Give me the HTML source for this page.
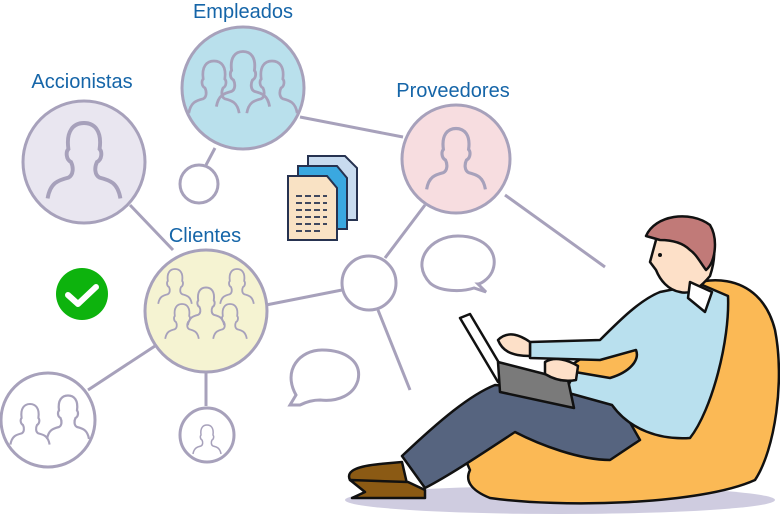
<!DOCTYPE html>
<html><head><meta charset="utf-8"><style>
html,body{margin:0;padding:0;background:#fff;width:780px;height:519px;overflow:hidden}
text{font-family:"Liberation Sans",sans-serif;fill:#1565a8;font-size:20px}
</style></head><body>
<svg width="780" height="519" viewBox="0 0 780 519" xmlns="http://www.w3.org/2000/svg">
<defs>
<path id="p" d="M-28,28 C-26,16 -20,14 -12,12 C-8,10 -8,4 -10,0 C-14,-2 -14,-8 -12,-10 C-14,-24 -8,-30 0,-30 C8,-30 14,-24 12,-10 C14,-8 14,-2 10,0 C8,4 8,10 12,12 C20,14 26,16 28,28" fill="none" stroke="#a7a1bb" stroke-width="3"/>
</defs>
<g stroke="#a7a1bb" stroke-width="3" fill="none">
<line x1="300" y1="117" x2="403" y2="137"/>
<line x1="215" y1="148" x2="206" y2="165"/>
<line x1="130" y1="205" x2="173" y2="250"/>
<line x1="266" y1="305" x2="342" y2="290"/>
<line x1="385" y1="258" x2="425" y2="205"/>
<line x1="505" y1="195" x2="605" y2="267"/>
<line x1="378" y1="310" x2="410" y2="390"/>
<line x1="155" y1="346" x2="88" y2="390"/>
<line x1="206" y1="361" x2="206" y2="406"/>
<circle cx="243" cy="88" r="61" fill="#b9e0ec"/>
<circle cx="84" cy="162" r="61" fill="#e9e6f0"/>
<circle cx="456" cy="159" r="54" fill="#f7dde0"/>
<circle cx="206" cy="311" r="61" fill="#f5f3d2"/>
<circle cx="199" cy="184" r="19" fill="#fff"/>
<circle cx="369" cy="283" r="27" fill="#fff"/>
<circle cx="48" cy="420" r="47" fill="#fff"/>
<circle cx="207" cy="435" r="27" fill="#fff"/>
<path d="M430,283 C410,262 430,236 458,236 C486,236 500,254 492,272 C488,280 480,284 478,284 L486,292 L474,288 C462,292 440,292 430,283Z"/>
<path d="M296,395 C282,370 300,350 322,350 C346,350 362,362 358,380 C354,395 338,402 320,400 C314,400 306,402 300,405 L290,405 Z"/>
</g>
<use href="#p" transform="translate(84,162) scale(1.3)"/>
<use href="#p" transform="translate(214,88) scale(0.9)"/>
<use href="#p" transform="translate(272,88) scale(0.9)"/>
<use href="#p" transform="translate(243,80) scale(0.95)"/>
<use href="#p" transform="translate(456,160) scale(1.05)"/>
<use href="#p" transform="translate(175,287) scale(0.6)"/>
<use href="#p" transform="translate(237,287) scale(0.6)"/>
<use href="#p" transform="translate(182,322) scale(0.6)"/>
<use href="#p" transform="translate(230,322) scale(0.6)"/>
<use href="#p" transform="translate(206,307) scale(0.65)"/>
<use href="#p" transform="translate(30,425) scale(0.7)"/>
<use href="#p" transform="translate(68,418) scale(0.75)"/>
<use href="#p" transform="translate(207,440) scale(0.5)"/>
<text x="243" y="18" text-anchor="middle">Empleados</text>
<text x="82" y="88" text-anchor="middle">Accionistas</text>
<text x="453" y="97" text-anchor="middle">Proveedores</text>
<text x="205" y="242" text-anchor="middle">Clientes</text>
<circle cx="82" cy="294" r="26" fill="#0db30d"/>
<path d="M68,295 L78,304 L96,287" stroke="#fff" stroke-width="6" fill="none" stroke-linecap="round" stroke-linejoin="round"/>
<g stroke="#263250" stroke-width="2">
<path d="M308,156 H345 L357,168 V220 H308Z" fill="#c8dbef"/>
<path d="M298,166 H337 L347,178 V229 H298Z" fill="#3aa8e0"/>
<path d="M288,176 H327 L337,188 V240 H288Z" fill="#f9e2c4"/>
<g stroke-dasharray="6,3" stroke-width="1.8"><line x1="296" y1="196" x2="327" y2="196"/><line x1="296" y1="203" x2="327" y2="203"/><line x1="296" y1="210" x2="327" y2="210"/><line x1="296" y1="217" x2="327" y2="217"/><line x1="296" y1="224" x2="327" y2="224"/><line x1="296" y1="231" x2="322" y2="231"/></g>
</g>
<ellipse cx="560" cy="500" rx="215" ry="14" fill="#cfcce0"/>
<g stroke="#111" stroke-width="2.5" stroke-linejoin="round">
<path d="M470,470 C450,430 480,400 520,390 C560,380 620,330 660,300 C700,270 760,270 775,330 C785,380 775,450 755,480 C700,505 560,508 490,498 C470,490 465,480 470,470Z" fill="#fbb955"/>
<path d="M408,488 L350,480 C345,470 360,466 380,464 L402,462Z" fill="#8b5a14"/>
<path d="M365,492 L350,480 L408,482 L425,490 L425,498 L352,498Z" fill="#8b5a14"/>
<path d="M402,456 C440,420 470,395 495,385 L560,390 L620,405 L640,440 L610,460 C580,460 540,445 515,432 C480,455 450,475 425,488 Z" fill="#56647f"/>
<path d="M530,342 L600,340 C620,320 640,300 660,292 L700,284 L728,296 C730,340 712,410 690,438 C660,440 630,430 612,405 L565,392 L575,372 L610,378 C630,372 640,360 636,350 L600,360 L530,358Z" fill="#b9e0ee"/>
<path d="M656,240 C660,220 690,215 708,228 C716,240 716,258 710,276 C700,288 690,295 680,292 C668,290 660,280 656,270 L650,262Z" fill="#fde0c8"/>
<path d="M646,236 C655,215 690,210 710,225 C718,238 716,262 706,270 C700,262 696,254 690,250 C680,240 665,240 660,240Z" fill="#c17a78"/>
<path d="M690,282 L712,292 L705,312 L688,298Z" fill="#fff"/>
<path d="M460,318 L470,314 L508,378 L498,382Z" fill="#fff"/>
<path d="M498,362 L568,380 L574,408 L500,392Z" fill="#7a7a7a"/>
<path d="M498,340 C508,330 520,335 530,342 L530,356 C510,356 502,350 498,340Z" fill="#fde0c8"/>
<path d="M545,362 C555,356 568,360 578,366 L576,380 C566,382 555,380 545,374Z" fill="#fde0c8"/>
</g>
<circle cx="660" cy="255" r="2" fill="#111"/>
</svg>
</body></html>
